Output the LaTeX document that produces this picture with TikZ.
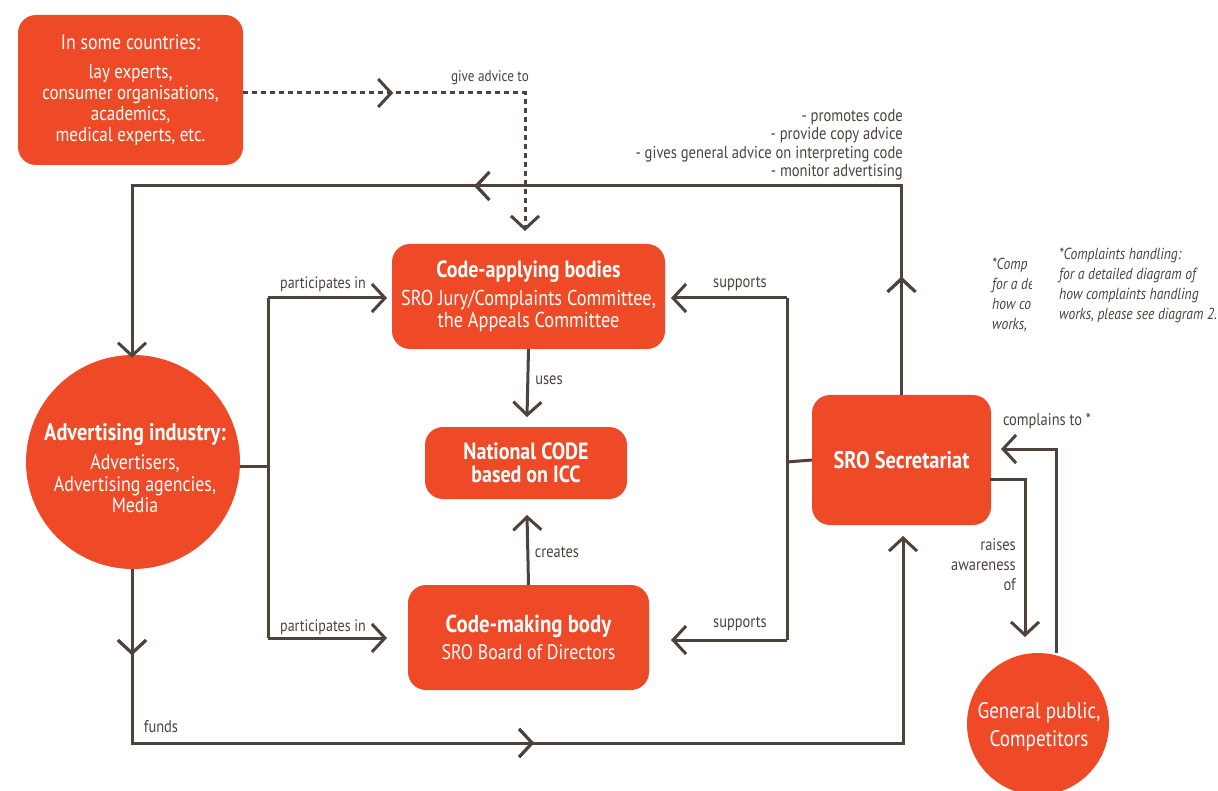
\documentclass[tikz,border=0pt]{standalone}
\usepackage{fontspec}
\setmainfont{PT Sans}[FakeStretch=0.85]
\usetikzlibrary{arrows.meta,decorations.markings}
\definecolor{orng}{HTML}{EE4A27}
\definecolor{ink}{HTML}{4E423A}
\newcommand{\fsz}[2]{\fontsize{#1}{#2}\selectfont}
\tikzset{
  obox/.style={fill=orng, rounded corners=18pt, text=white, align=center, inner sep=0pt},
  ocirc/.style={circle, fill=orng, inner sep=0pt},
  wtext/.style={text=white, align=center, inner sep=0pt},
  lbl/.style={text=ink, font=\fsz{16.5}{19}, inner sep=0pt},
  conn/.style={draw=ink, line width=3pt},
  barb/.tip={Straight Barb[length=13pt, width=28pt, line width=3pt]},
  conna/.style={conn, -barb},
  midtip/.style={postaction={decorate}, decoration={markings, mark=at position #1 with {\arrow{barb}}}},
  dots/.style={draw=ink, line width=3pt, dash pattern=on 5pt off 4pt},
}
\begin{document}
\begin{tikzpicture}[x=1pt,y=-1pt]
\useasboundingbox (0,0) rectangle (1218,791);
% nodes
\node[obox, minimum width=225pt, minimum height=150pt, font=\fsz{20}{21}] (lay) at (130.5,90)
  {{\fsz{21}{21}In some countries:}\\[8pt]
   lay experts,\\ consumer organisations,\\ academics,\\ medical experts, etc.};
\node[obox, minimum width=273pt, minimum height=105pt, font=\fsz{21.5}{22}] (cab) at (528.5,296.5)
  {{\fsz{23.5}{22}\bfseries Code-applying bodies}\\[6pt]
   SRO Jury/Complaints Committee,\\ the Appeals Committee};
\node[obox, minimum width=202pt, minimum height=72pt, font=\fsz{23.5}{23}\bfseries] (code) at (526,463)
  {National CODE\\ based on ICC};
\node[obox, minimum width=241pt, minimum height=105pt, font=\fsz{21}{22}] (cmb) at (528.5,637.5)
  {{\fsz{24.5}{22}\bfseries Code-making body}\\[5pt]
   SRO Board of Directors};
\node[obox, minimum width=179pt, minimum height=130pt, font=\fsz{24}{24}\bfseries] (sro) at (901.5,460)
  {SRO Secretariat};
\node[ocirc, minimum size=214pt] (adv) at (133,462) {};
\node[wtext, font=\fsz{21}{21.5}] (advt) at (135,468)
  {{\fsz{24}{22}\bfseries Advertising industry:}\\[8pt]
   Advertisers,\\ Advertising agencies,\\ Media};
\node[ocirc, minimum size=142pt] (pub) at (1038,724) {};
\node[wtext, font=\fsz{22.5}{28}] (pubt) at (1039,727) {General public,\\ Competitors};
% coordinates
\coordinate (dc) at (525,93);
\coordinate (dend) at (525,231);
\coordinate (tr) at (901.5,186);
\coordinate (tl) at (132,186);
\coordinate (pj) at (268,466);
\coordinate (pt) at (268,298);
\coordinate (pb) at (268,638);
\coordinate (pta) at (387,298);
\coordinate (pba) at (387,638);
\coordinate (sj) at (787,462);
\coordinate (st) at (787,298);
\coordinate (sb) at (787,640);
\coordinate (sta) at (671,298);
\coordinate (sba) at (671,640);
\coordinate (usea) at (527,417);
\coordinate (crea) at (527,515);
\coordinate (fl) at (132,743);
\coordinate (fr) at (903,743);
\coordinate (fe) at (903,536);
\coordinate (r1) at (990,479);
\coordinate (r2) at (1025,479);
\coordinate (r3) at (1025,637);
\coordinate (c1) at (1056,449);
\coordinate (c2) at (1001,449);
% connectors
\draw[dots, -barb, midtip=150pt] (lay.east |- dc) -- (dc) -- (dend);
\draw[conna, midtip=118pt, midtip=636pt] (sro.north) -- (tr) -- (tl) -- ([yshift=-3pt]tl |- adv.north);
\draw[conn] (adv.east |- pj) -- (pj);
\draw[conn] (pt) -- (pb);
\draw[conna] (pt) -- (pta);
\draw[conna] (pb) -- (pba);
\draw[conn] (sro.west) -- (sj);
\draw[conn] (st) -- (sb);
\draw[conna] (st) -- (sta);
\draw[conna] (sb) -- (sba);
\draw[conna] (cab.south) -- (usea);
\draw[conna] (cmb.north) -- (crea);
\draw[conna, midtip=86pt, midtip=576pt] (tl |- adv.south) -- (fl) -- (fr) -- (fe);
\draw[conna] (r1) -- (r2) -- (r3);
\draw[conna] (pub.north -| c1) -- (c1) -- (c2);
% labels
\node[lbl, font=\fsz{15.5}{18}] (l1) at (490,78) {give advice to};
\node[lbl, align=right, anchor=east, font=\fsz{17.2}{18.5}] (l2) at (903,145)
  {- promotes code\\ - provide copy advice\\ - gives general advice on interpreting code\\ - monitor advertising};
\node[lbl] (l3) at (323,284) {participates in};
\node[lbl] (l4) at (323,627) {participates in};
\node[lbl, font=\fsz{17}{19}] (l5) at (740,284) {supports};
\node[lbl, font=\fsz{17}{19}] (l6) at (740,624) {supports};
\node[lbl, font=\fsz{17}{19}] (l7) at (549,380) {uses};
\node[lbl, font=\fsz{17}{19}] (l8) at (557,552) {creates};
\node[lbl, font=\fsz{17}{19}] (l9) at (161,727) {funds};
\node[lbl, font=\fsz{17}{19}] (l10) at (1047,421) {complains to *};
\node[lbl, align=right, anchor=east, font=\fsz{17}{20}] (l11) at (1016,565) {raises\\ awareness\\ of};
\begin{scope}
\clip (980,240) rectangle (1031,345);
\node[lbl, align=left, anchor=north west, font=\fsz{16}{20}\itshape] (n1) at (992,258) {*Comp\\ for a de\\ how co\\ works,};
\end{scope}
\node[lbl, align=left, anchor=north west, font=\fsz{16}{20}\itshape] (n2) at (1059,248) {*Complaints handling:\\ for a detailed diagram of\\ how complaints handling\\ works, please see diagram 2.};
\end{tikzpicture}
\end{document}
